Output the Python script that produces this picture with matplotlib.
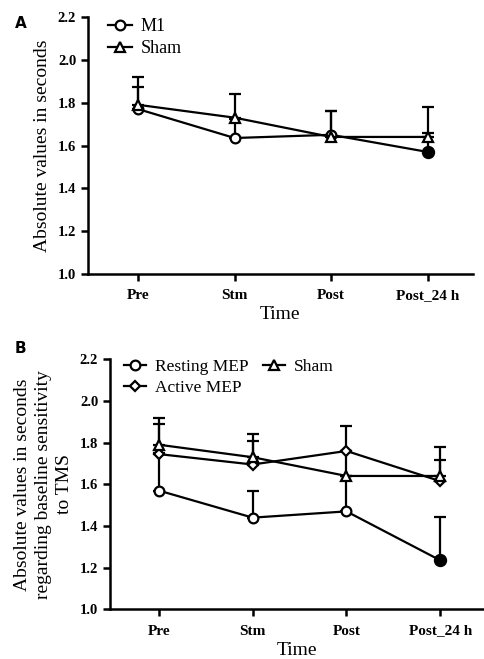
import matplotlib
matplotlib.use('Agg')
import matplotlib.pyplot as plt
import numpy as np

plt.rcParams['font.family'] = ['Liberation Serif', 'DejaVu Serif']

TIMES = ['Pre', 'Stm', 'Post', 'Post_24 h']

# panel A: M1 vs sham
m1_mean = [1.77, 1.635, 1.65, 1.57]
m1_err = [0.105, 0.09, 0.11, 0.09]
sham_mean = [1.79, 1.73, 1.64, 1.64]
sham_err = [0.13, 0.11, 0.12, 0.14]

# panel B: by baseline sensitivity
rest_mean = [1.57, 1.44, 1.47, 1.235]
rest_err = [0.18, 0.13, 0.17, 0.21]
active_mean = [1.745, 1.695, 1.76, 1.615]
active_err = [0.145, 0.115, 0.12, 0.10]

LW = 1.6
MS = 7


def series(ax, mean, err, marker, label, ms=MS, filled_last=False):
    x = np.arange(len(mean))
    ax.errorbar(x, mean, yerr=[np.zeros(len(err)), err], fmt='none',
                ecolor='black', elinewidth=LW, capsize=4.5, capthick=LW, zorder=2)
    ax.plot(x, mean, color='black', lw=LW, marker=marker, ms=ms,
            mfc='white', mec='black', mew=LW, zorder=3, label=label)
    if filled_last:
        ax.plot(x[-1], mean[-1], marker=marker, ms=ms + 1, color='black',
                mew=LW, zorder=4, linestyle='none')


def style_axes(ax, xright):
    ax.set_xlim(-0.52, xright)
    ax.set_ylim(1.0, 2.2)
    yt = np.arange(1.0, 2.21, 0.2)
    ax.set_yticks(yt)
    ax.set_yticklabels([f'{v:.1f}' for v in yt])
    ax.set_xticks(range(len(TIMES)))
    ax.set_xticklabels(TIMES)
    for s in ['top', 'right']:
        ax.spines[s].set_visible(False)
    for s in ['left', 'bottom']:
        ax.spines[s].set_linewidth(1.8)
    ax.tick_params(width=1.8, length=5, direction='out')
    ax.tick_params(axis='y', labelsize=10.5)
    ax.tick_params(axis='x', labelsize=11, pad=6)
    for t in ax.get_xticklabels() + ax.get_yticklabels():
        t.set_fontweight('bold')
    ax.set_xlabel('Time', fontsize=14, labelpad=3)


fig = plt.figure(figsize=(4.85, 6.59), dpi=100)
fig.patch.set_facecolor('white')

axA = fig.add_axes([0.1814, 0.5842, 0.7936, 0.39])
series(axA, m1_mean, m1_err, 'o', 'M1', filled_last=True)
series(axA, sham_mean, sham_err, '^', 'Sham')
style_axes(axA, 3.47)
axA.set_ylabel('Absolute values in seconds', fontsize=14, labelpad=5)
axA.legend(loc='upper left', bbox_to_anchor=(0.01, 1.06), frameon=False,
           fontsize=13, handlelength=1.3, handletextpad=0.5, labelspacing=0.3)

axB = fig.add_axes([0.2268, 0.0754, 0.77, 0.3794])
series(axB, rest_mean, rest_err, 'o', 'Resting MEP', filled_last=True)
series(axB, active_mean, active_err, 'D', 'Active MEP', ms=5.5)
series(axB, sham_mean, sham_err, '^', 'Sham')
style_axes(axB, 3.46)
axB.set_ylabel('Absolute values in seconds\nregarding baseline sensitivity\nto TMS',
               fontsize=14, labelpad=5, linespacing=1.3)
axB.legend(loc='upper left', bbox_to_anchor=(-0.005, 1.065), frameon=False,
           fontsize=12.5, ncol=2, handlelength=1.3, handletextpad=0.5,
           labelspacing=0.3, columnspacing=0.8)

fig.text(0.03, 0.957, 'A', fontsize=11, fontweight='bold', family='DejaVu Sans')
fig.text(0.03, 0.465, 'B', fontsize=11, fontweight='bold', family='DejaVu Sans')

fig.savefig('out.png', dpi=100, facecolor='white')
plt.close(fig)
